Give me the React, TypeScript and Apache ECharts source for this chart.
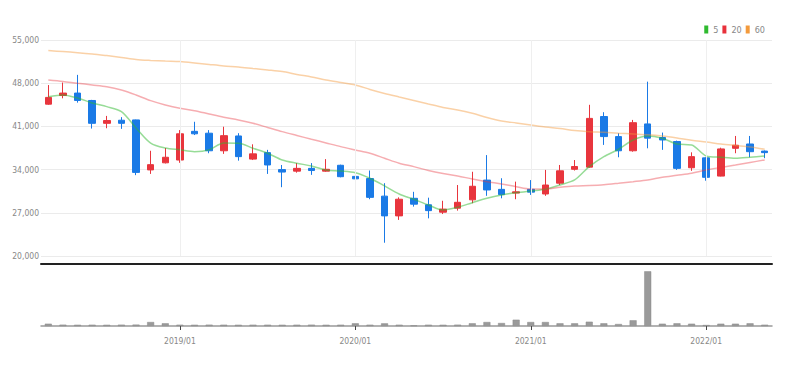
import React, { useEffect, useRef } from "react";
import * as echarts from "echarts";

const categories = [
  "2018/04", "2018/05", "2018/06", "2018/07", "2018/08", "2018/09", "2018/10", "2018/11", "2018/12",
  "2019/01", "2019/02", "2019/03", "2019/04", "2019/05", "2019/06", "2019/07", "2019/08", "2019/09", "2019/10", "2019/11", "2019/12",
  "2020/01", "2020/02", "2020/03", "2020/04", "2020/05", "2020/06", "2020/07", "2020/08", "2020/09", "2020/10", "2020/11", "2020/12",
  "2021/01", "2021/02", "2021/03", "2021/04", "2021/05", "2021/06", "2021/07", "2021/08", "2021/09", "2021/10", "2021/11", "2021/12",
  "2022/01", "2022/02", "2022/03", "2022/04", "2022/05",
];

// [open, close, low, high]
const candles = [
  [44600, 45700, 44500, 47700],
  [46000, 46400, 45550, 48100],
  [46400, 45200, 44850, 49350],
  [45200, 41500, 40650, 45300],
  [41500, 41950, 40700, 42700],
  [42000, 41500, 40600, 42500],
  [42050, 33550, 33100, 42100],
  [33950, 34800, 33300, 37050],
  [35100, 36000, 35000, 37500],
  [35550, 39800, 35100, 40400],
  [40200, 39800, 39600, 41750],
  [39900, 37050, 36650, 40400],
  [37050, 39500, 36550, 40950],
  [39450, 36100, 35450, 39900],
  [35700, 36550, 35550, 38100],
  [36750, 34750, 33300, 37200],
  [34000, 33600, 31150, 34750],
  [33750, 34200, 33500, 35050],
  [34200, 33850, 33150, 35050],
  [33750, 34050, 33650, 35700],
  [34700, 32850, 32750, 34800],
  [32900, 32500, 32450, 34750],
  [32550, 29500, 29200, 33850],
  [29700, 26500, 22150, 31800],
  [26500, 29200, 25850, 29500],
  [29350, 28400, 28000, 30400],
  [28300, 27350, 26100, 29450],
  [27100, 27600, 26800, 28950],
  [27750, 28700, 27350, 31500],
  [29100, 31300, 28550, 33650],
  [32300, 30700, 29750, 36350],
  [30800, 29950, 29350, 32600],
  [30200, 30400, 29200, 32050],
  [30800, 30350, 29900, 32300],
  [30050, 31500, 29750, 33950],
  [31800, 33800, 31500, 34750],
  [34050, 34500, 33850, 35550],
  [34400, 42300, 34300, 44500],
  [42600, 39350, 38000, 43300],
  [39350, 37050, 36000, 39900],
  [37050, 41600, 36900, 42050],
  [41400, 39100, 37450, 48250],
  [39200, 38800, 37200, 40000],
  [38550, 34200, 33950, 38700],
  [34300, 36100, 33800, 36800],
  [35900, 32750, 32200, 36000],
  [32950, 37350, 32900, 37550],
  [37450, 37950, 36650, 39450],
  [38150, 36900, 36000, 39450],
  [37000, 36750, 35850, 37100],
];

const ma5 = [
  45800, 46100, 45600, 44800, 44200, 43400, 40750, 38300, 37500, 37200,
  36900, 37200, 38300, 38270, 37460, 36650, 35560, 35030, 34590, 33940,
  33780, 33500, 32600, 31350, 30050, 29190, 28270, 27460, 27890, 28640,
  29350, 29890, 30260, 30540, 30810, 31510, 32320, 34480, 36100, 37300,
  38800, 39450, 39080, 38150, 38000, 36210, 36000, 35840, 36000, 36210,
];

const ma20 = [
  48530, 48290, 47990, 47720, 47440, 46910, 46100, 45170, 44480, 43940,
  43550, 43020, 42500, 42050, 41510, 40830, 40150, 39530, 38920, 38320,
  37720, 37180, 36650, 35840, 35030, 34480, 33860, 33370, 32970, 32480,
  32040, 31670, 31230, 30860, 30860, 31140, 31350, 31430, 31560, 31790,
  32040, 32320, 32760, 33080, 33410, 33940, 34350, 34750, 35160, 35560,
];

const ma60 = [
  53280, 53120, 52950, 52740, 52470, 52180, 51850, 51690, 51580, 51500,
  51290, 51040, 50800, 50640, 50390, 50150, 49880, 49420, 49020, 48530,
  48120, 47720, 46990, 46340, 45770, 45210, 44640, 44070, 43670, 43130,
  42450, 41880, 41560, 41240, 40910, 40670, 40340, 40150, 40050, 39910,
  39780, 39660, 39450, 39130, 38750, 38480, 38160, 37910, 37670, 37300,
];

const volumes = [
  62000, 36000, 34000, 35000, 33000, 36000, 38000, 108000, 73000, 35000,
  34000, 36000, 35000, 34000, 36000, 35000, 34000, 35000, 36000, 34000,
  35000, 73000, 35000, 72000, 35000, 14000, 35000, 34000, 36000, 73000,
  108000, 81000, 170000, 108000, 108000, 73000, 73000, 116000, 73000, 54000,
  154000, 1477000, 62000, 73000, 62000, 27000, 62000, 62000, 73000, 35000,
];

const yTicks = [20000, 27000, 34000, 41000, 48000, 55000];
const yearMarks = ["2019/01", "2020/01", "2021/01", "2022/01"];
const legendNames = ["5", "20", "60"];

export default function App() {
  const ref = useRef<HTMLDivElement>(null);

  useEffect(() => {
    const chart = echarts.init(ref.current!, null, { renderer: "svg" });
    const font = "'DejaVu Sans Condensed', 'Liberation Sans Narrow', 'Liberation Sans', sans-serif";
    const isYear = (_i: number, v: string) => yearMarks.indexOf(v) >= 0;
    chart.setOption({
      animation: false,
      backgroundColor: "#ffffff",
      textStyle: { fontFamily: font },
      legend: {
        data: legendNames,
        right: 20,
        top: 20,
        icon: "rect",
        itemWidth: 4,
        itemHeight: 8,
        itemGap: 4,
        textStyle: { fontSize: 9, color: "#888", fontFamily: font },
      },
      grid: [
        { left: 41, right: 18, top: 40, height: 216 },
        { left: 41, right: 18, top: 264, height: 62 },
      ],
      xAxis: [
        {
          type: "category",
          gridIndex: 0,
          data: categories,
          boundaryGap: true,
          offset: 8,
          axisLine: { show: true, onZero: false, lineStyle: { color: "#222", width: 2 } },
          axisTick: { show: false },
          axisLabel: { show: false },
          splitLine: { show: false },
        },
        {
          type: "category",
          gridIndex: 1,
          data: categories,
          boundaryGap: true,
          axisLine: { show: true, lineStyle: { color: "#999", width: 1.5 } },
          axisTick: { show: true, alignWithLabel: true, interval: isYear, length: 4, lineStyle: { color: "#444" } },
          axisLabel: { interval: isYear, color: "#888", fontSize: 8.5, margin: 10, fontFamily: font },
          splitLine: { show: false },
        },
      ],
      yAxis: [
        {
          type: "value",
          gridIndex: 0,
          min: 20000,
          max: 55000,
          axisLine: { show: false },
          axisTick: { show: false, customValues: yTicks },
          axisLabel: {
            customValues: yTicks,
            color: "#888",
            fontSize: 8.5,
            margin: 2,
            fontFamily: font,
            formatter: (v: number) => v.toLocaleString("en-US"),
          },
          splitLine: { show: true, lineStyle: { color: "#ebebeb", width: 1 } },
        },
        {
          type: "value",
          gridIndex: 1,
          min: 0,
          max: 1674000,
          show: false,
          splitLine: { show: false },
        },
      ],
      series: [
        {
          type: "candlestick",
          name: "price",
          xAxisIndex: 0,
          yAxisIndex: 0,
          data: candles,
          barWidth: 7,
          itemStyle: {
            color: "#e8353d",
            color0: "#1a7ae6",
            borderColor: "#e8353d",
            borderColor0: "#1a7ae6",
            borderWidth: 1,
          },
          markLine: {
            silent: true,
            symbol: ["none", "none"],
            label: { show: false },
            lineStyle: { color: "#efefef", width: 1, type: "solid" },
            data: yearMarks.map((m) => ({ xAxis: m })),
          },
        },
        {
          type: "line",
          name: "5",
          data: ma5,
          xAxisIndex: 0,
          yAxisIndex: 0,
          smooth: 0.3,
          showSymbol: false,
          color: "#2fba2f",
          lineStyle: { width: 1.5, opacity: 0.5 },
        },
        {
          type: "line",
          name: "20",
          data: ma20,
          xAxisIndex: 0,
          yAxisIndex: 0,
          smooth: 0.3,
          showSymbol: false,
          color: "#e8313b",
          lineStyle: { width: 1.5, opacity: 0.4 },
        },
        {
          type: "line",
          name: "60",
          data: ma60,
          xAxisIndex: 0,
          yAxisIndex: 0,
          smooth: 0.3,
          showSymbol: false,
          color: "#f39a3c",
          lineStyle: { width: 1.5, opacity: 0.45 },
        },
        {
          type: "bar",
          name: "volume",
          data: volumes,
          xAxisIndex: 1,
          yAxisIndex: 1,
          barWidth: 7,
          itemStyle: { color: "#9a9a9a", borderColor: "#8a8a8a", borderWidth: 0.5 },
        },
      ],
    });
    return () => chart.dispose();
  }, []);

  return (
    <div
      ref={ref}
      style={{ position: "fixed", left: 0, top: 0, width: 790, height: 366 }}
    />
  );
}
